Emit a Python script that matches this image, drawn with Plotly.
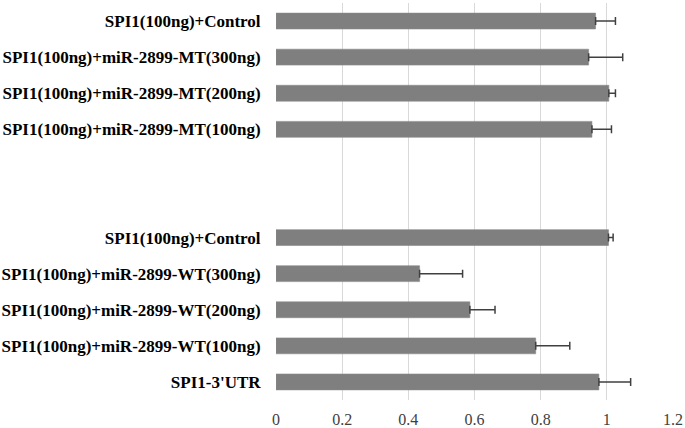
import plotly.graph_objects as go

# categories listed bottom -> top; two blank spacer slots separate the groups
categories = [
    "SPI1-3'UTR",
    "SPI1(100ng)+miR-2899-WT(100ng)",
    "SPI1(100ng)+miR-2899-WT(200ng)",
    "SPI1(100ng)+miR-2899-WT(300ng)",
    "SPI1(100ng)+Control ",
    "gap1",
    "gap2",
    "SPI1(100ng)+miR-2899-MT(100ng)",
    "SPI1(100ng)+miR-2899-MT(200ng)",
    "SPI1(100ng)+miR-2899-MT(300ng)",
    "SPI1(100ng)+Control",
]
tick_labels = [
    "SPI1-3'UTR",
    "SPI1(100ng)+miR-2899-WT(100ng)",
    "SPI1(100ng)+miR-2899-WT(200ng)",
    "SPI1(100ng)+miR-2899-WT(300ng)",
    "SPI1(100ng)+Control",
    "",
    "",
    "SPI1(100ng)+miR-2899-MT(100ng)",
    "SPI1(100ng)+miR-2899-MT(200ng)",
    "SPI1(100ng)+miR-2899-MT(300ng)",
    "SPI1(100ng)+Control",
]
values = [0.976, 0.785, 0.586, 0.434, 1.005, None, None, 0.955, 1.006, 0.945, 0.966]
errors = [0.096, 0.103, 0.076, 0.130, 0.014, None, None, 0.059, 0.020, 0.103, 0.060]
x_ticks = [0, 0.2, 0.4, 0.6, 0.8, 1, 1.2]
x_tick_text = ["0", "0.2", "0.4", "0.6", "0.8", "1", "1.2"]

fig = go.Figure()
fig.add_trace(go.Bar(
    y=categories, x=values, orientation="h",
    marker=dict(color="#7f7f7f", line=dict(color="#8a8a8a", width=0.6)),
    error_x=dict(type="data", array=errors,
                 arrayminus=[0 if e is not None else None for e in errors],
                 symmetric=False, color="#404040", thickness=1.5, width=4),
    width=0.44,
    hoverinfo="skip",
))

fig.update_layout(
    width=685, height=428,
    margin=dict(l=276, r=12, t=3, b=28, autoexpand=False),
    paper_bgcolor="white", plot_bgcolor="white",
    showlegend=False,
    font=dict(family="Liberation Serif, Times New Roman, serif", color="#000000"),
)
fig.update_xaxes(
    range=[0, 1.2], tickvals=x_ticks, ticktext=x_tick_text,
    showgrid=True, gridcolor="#d9d9d9", gridwidth=1,
    zeroline=False, showline=False,
    ticks="outside", ticklen=5, tickcolor="rgba(0,0,0,0)",
    tickfont=dict(size=16, color="#404040"),
    automargin=False,
)
fig.update_yaxes(
    categoryorder="array", categoryarray=categories,
    tickvals=categories, ticktext=["<b>%s</b>" % t for t in tick_labels],
    showgrid=False, zeroline=False, showline=False,
    ticks="outside", ticklen=11, tickcolor="rgba(0,0,0,0)",
    tickfont=dict(size=17, color="#000000"),
    range=[-0.5, 10.5],
    automargin=False,
)
fig.write_html("out.html", config={"displayModeBar": False},
               post_script="document.body.style.margin='0';")
